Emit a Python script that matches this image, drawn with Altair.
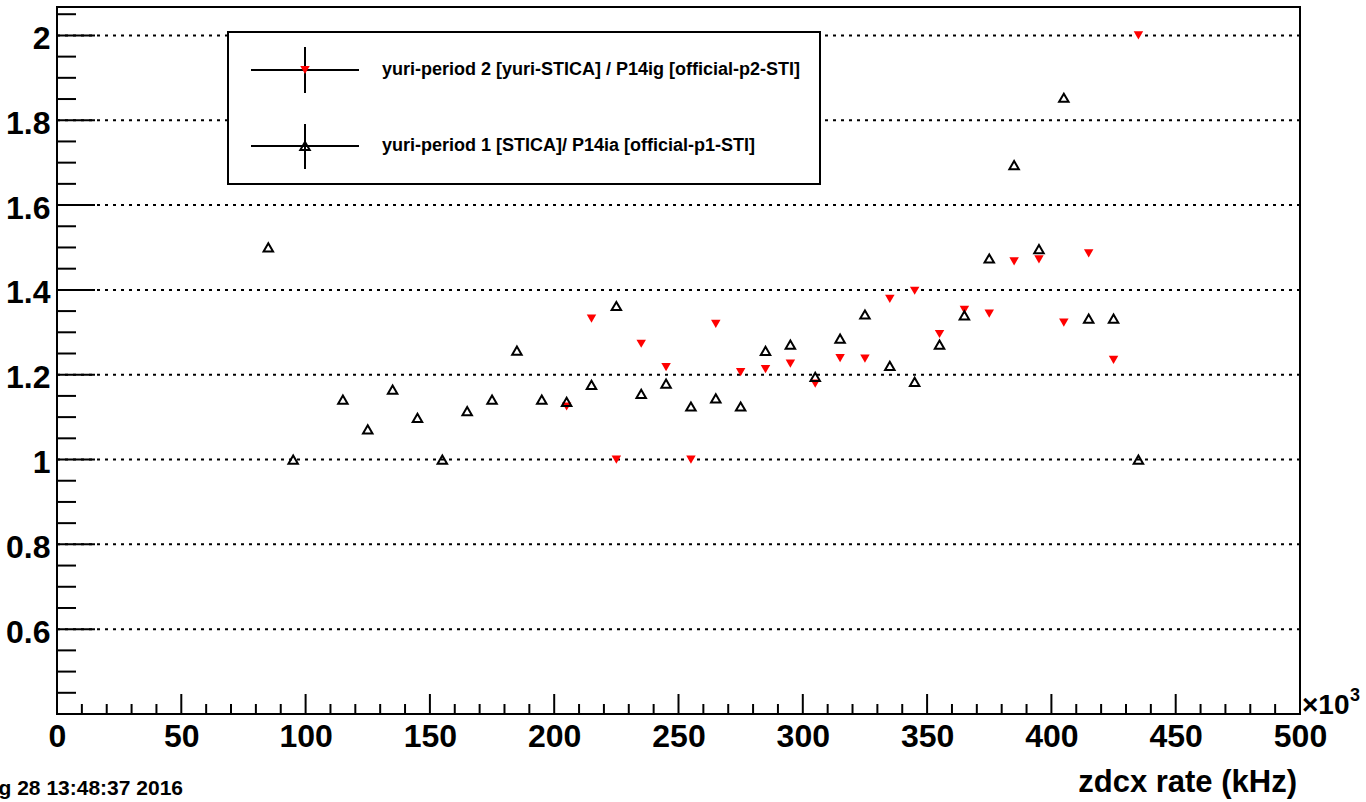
import altair as alt
import pandas as pd

# ---- data ----
x_p1 = [85, 95, 115, 125, 135, 145, 155, 165, 175, 185, 195, 205, 215, 225, 235, 245,
        255, 265, 275, 285, 295, 305, 315, 325, 335, 345, 355, 365, 375, 385, 395, 405,
        415, 425, 435]
y_p1 = [1.5, 1.0, 1.141, 1.071, 1.165, 1.098, 1.0, 1.114, 1.141, 1.257, 1.141, 1.136,
        1.176, 1.362, 1.155, 1.179, 1.125, 1.144, 1.125, 1.256, 1.271, 1.195, 1.285,
        1.342, 1.221, 1.183, 1.271, 1.34, 1.474, 1.694, 1.496, 1.853, 1.332, 1.332, 1.0]

x_p2 = [205, 215, 225, 235, 245, 255, 265, 275, 285, 295, 305, 315, 325, 335, 345, 355,
        365, 375, 385, 395, 405, 415, 425, 435]
y_p2 = [1.125, 1.332, 1.0, 1.273, 1.218, 1.0, 1.32, 1.206, 1.213, 1.226, 1.179, 1.239,
        1.238, 1.379, 1.398, 1.296, 1.353, 1.344, 1.467, 1.472, 1.323, 1.486, 1.235, 2.0]

legend_labels = ["yuri-period 2 [yuri-STICA] / P14ig [official-p2-STI]",
                 "yuri-period 1 [STICA]/ P14ia [official-p1-STI]"]

x_major = [0, 50, 100, 150, 200, 250, 300, 350, 400, 450, 500]
x_minor = [v for v in range(10, 500, 10) if v % 50 != 0]
y_major = [0.6, 0.8, 1.0, 1.2, 1.4, 1.6, 1.8, 2.0]
y_minor = [0.45, 0.5, 0.55, 0.65, 0.7, 0.75, 0.85, 0.9, 0.95, 1.05, 1.1, 1.15, 1.25,
           1.3, 1.35, 1.45, 1.5, 1.55, 1.65, 1.7, 1.75, 1.85, 1.9, 1.95, 2.05]

x_title = "zdcx rate (kHz)"
x_exp = "×10"
x_exp_sup = "3"
date_text = "Sun Aug 28 13:48:37 2016"

X_DOMAIN = [0, 500]
Y_DOMAIN = [0.4, 2.067]
W, H = 1243, 707
FONT = "Liberation Sans"

xs = alt.Scale(domain=X_DOMAIN, nice=False, zero=False)
ys = alt.Scale(domain=Y_DOMAIN, nice=False, zero=False)

df1 = pd.DataFrame({"x": x_p1, "y": y_p1})
df2 = pd.DataFrame({"x": x_p2, "y": y_p2})
one = pd.DataFrame({"a": [0]})

x_axis = alt.Axis(values=x_major, format="d", labelFontSize=32, labelPadding=7,
                  labelFont=FONT, labelFontWeight="bold", labelColor="black",
                  ticks=False, domain=False, grid=False, title=None,
                  labelFlush=False, labelOverlap=False)
y_axis = alt.Axis(values=y_major, format="~g", labelFontSize=32, labelPadding=7,
                  labelFont=FONT, labelFontWeight="bold", labelColor="black",
                  ticks=False, domain=False, grid=False, title=None,
                  labelOffset=3, labelFlush=False, labelOverlap=False)

# grid (dotted) at y majors
grid = alt.Chart(pd.DataFrame({"y": y_major})).mark_rule(
    color="black", strokeWidth=2, strokeDash=[3, 5]
).encode(
    y=alt.Y("y:Q", scale=ys, axis=y_axis),
    x=alt.value(0), x2=alt.value(W),
)

# legend box
leg_box = alt.Chart(one).mark_rect(fill="white", stroke="black", strokeWidth=2).encode(
    x=alt.value(171), x2=alt.value(763), y=alt.value(25), y2=alt.value(177)
)
leg_h = alt.Chart(one).mark_rule(color="black", strokeWidth=2).encode(
    x=alt.value(194), x2=alt.value(302), y=alt.value(63)
) + alt.Chart(one).mark_rule(color="black", strokeWidth=2).encode(
    x=alt.value(194), x2=alt.value(302), y=alt.value(139)
)
leg_v = alt.Chart(one).mark_rule(color="black", strokeWidth=2).encode(
    x=alt.value(248), y=alt.value(40), y2=alt.value(86)
) + alt.Chart(one).mark_rule(color="black", strokeWidth=2).encode(
    x=alt.value(248), y=alt.value(117), y2=alt.value(162)
)
leg_m1 = alt.Chart(one).mark_point(shape="triangle-down", filled=True, color="#ff0000",
                                   opacity=1, size=90).encode(
    x=alt.value(248), y=alt.value(63))
leg_m2 = alt.Chart(one).mark_point(shape="triangle-up", filled=False, color="black",
                                   strokeWidth=2, opacity=1, size=90).encode(
    x=alt.value(248), y=alt.value(139))
leg_t1 = alt.Chart(one).mark_text(align="left", baseline="middle", font=FONT,
                                  fontWeight="bold", fontSize=18, color="black").encode(
    x=alt.value(325), y=alt.value(63), text=alt.value(legend_labels[0]))
leg_t2 = alt.Chart(one).mark_text(align="left", baseline="middle", font=FONT,
                                  fontWeight="bold", fontSize=18, color="black").encode(
    x=alt.value(325), y=alt.value(139), text=alt.value(legend_labels[1]))

# data points
p2 = alt.Chart(df2).mark_point(shape="triangle-down", filled=True, color="#ff0000",
                               opacity=1, size=90).encode(
    x=alt.X("x:Q", scale=xs, axis=x_axis), y=alt.Y("y:Q", scale=ys))
p1 = alt.Chart(df1).mark_point(shape="triangle-up", filled=False, color="black",
                               strokeWidth=2, opacity=1, size=90).encode(
    x=alt.X("x:Q", scale=xs), y=alt.Y("y:Q", scale=ys))

# ticks (inward)
ymaj = alt.Chart(pd.DataFrame({"y": y_major})).mark_rule(color="black", strokeWidth=2).encode(
    y=alt.Y("y:Q", scale=ys), x=alt.value(0), x2=alt.value(38))
ymin = alt.Chart(pd.DataFrame({"y": y_minor})).mark_rule(color="black", strokeWidth=2).encode(
    y=alt.Y("y:Q", scale=ys), x=alt.value(0), x2=alt.value(19))
xmaj = alt.Chart(pd.DataFrame({"x": x_major})).mark_rule(color="black", strokeWidth=2).encode(
    x=alt.X("x:Q", scale=xs), y=alt.value(H), y2=alt.value(H - 20))
xmin = alt.Chart(pd.DataFrame({"x": x_minor})).mark_rule(color="black", strokeWidth=2).encode(
    x=alt.X("x:Q", scale=xs), y=alt.value(H), y2=alt.value(H - 10))

# texts
title_t = alt.Chart(one).mark_text(align="right", baseline="alphabetic", font=FONT,
                                   fontWeight="bold", fontSize=31, color="black").encode(
    x=alt.value(1240), y=alt.value(785), text=alt.value(x_title))
exp_t = alt.Chart(one).mark_text(align="left", baseline="alphabetic", font=FONT,
                                 fontWeight="bold", fontSize=28, color="black").encode(
    x=alt.value(1245), y=alt.value(707), text=alt.value(x_exp))
sup_t = alt.Chart(one).mark_text(align="left", baseline="alphabetic", font=FONT,
                                 fontWeight="bold", fontSize=18, color="black").encode(
    x=alt.value(1293), y=alt.value(694), text=alt.value(x_exp_sup))
date_t = alt.Chart(one).mark_text(align="right", baseline="alphabetic", font=FONT,
                                  fontWeight="bold", fontSize=21, color="black").encode(
    x=alt.value(126), y=alt.value(788), text=alt.value(date_text))

chart = alt.layer(
    grid, leg_box, leg_h, leg_v, leg_m1, leg_m2, leg_t1, leg_t2,
    p2, p1, ymaj, ymin, xmaj, xmin, title_t, exp_t, sup_t, date_t
).resolve_scale(x="shared", y="shared").properties(
    width=W, height=H,
    autosize=alt.AutoSizeParams(type="none"),
    padding={"left": 57, "top": 7, "right": 66, "bottom": 88},
    background="white",
).configure_view(stroke="black", strokeWidth=2)

chart.save("out.html", embed_options={"renderer": "svg", "actions": False})
